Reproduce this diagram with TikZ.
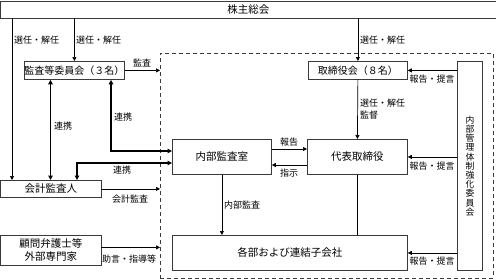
\documentclass[tikz,border=0pt]{standalone}
\usepackage{fontspec}
\setmainfont{Noto Sans CJK JP}
\usetikzlibrary{arrows.meta}
\definecolor{linec}{HTML}{3A3A3A}
\begin{document}
\begin{tikzpicture}[x=1pt,y=-1pt,
  box/.style={draw=linec, line width=0.8pt, fill=white, inner sep=0pt, anchor=north west, align=center, font=\fontsize{10.5}{13}\selectfont},
  lbl/.style={inner sep=0pt, font=\fontsize{9}{11}\selectfont},
  arr/.style={draw=black, line width=0.7pt, -{Triangle[length=4pt,width=4pt]}},
  ln/.style={draw=black, line width=0.7pt},
  thk/.style={draw=black, line width=1.5pt, {Triangle[length=4.5pt,width=4.5pt]}-{Triangle[length=4.5pt,width=4.5pt]}},
  frm/.style={draw=linec, line width=0.7pt, dash pattern=on 4pt off 3pt}]
\useasboundingbox (0,0) rectangle (496,279);
% dashed frame
\node[frm, inner sep=0pt, minimum width=333pt, minimum height=225pt, anchor=north west] (frame) at (160,53) {};
% boxes
\node[box, minimum width=495pt, minimum height=17pt] (top) at (0.5,0.5) {株主総会};
\node[box, minimum width=100pt, minimum height=18pt, font=\fontsize{10}{12}\selectfont] (kansa) at (24,61) {監査等委員会（３名）};
\node[box, minimum width=99pt, minimum height=18pt, font=\fontsize{10}{12}\selectfont] (tori) at (308,61) {取締役会（８名）};
\node[box, minimum width=25pt, minimum height=209pt, font=\fontsize{8.8}{9.2}\selectfont] (iin) at (457,61) {内\\部\\管\\理\\体\\制\\強\\化\\委\\員\\会};
\node[box, minimum width=99pt, minimum height=35pt] (naibu) at (172,139) {内部監査室};
\node[box, minimum width=100pt, minimum height=35pt] (daihyo) at (307,139) {代表取締役};
\node[box, minimum width=235pt, minimum height=35pt] (kakubu) at (172,235) {各部および連結子会社};
\node[box, minimum width=100pt, minimum height=17pt] (kaikei) at (0.5,180) {会計監査人};
\node[box, minimum width=100pt, minimum height=30pt] (komon) at (0.5,235) {顧問弁護士等\\外部専門家};
% shareholders arrows
\draw[arr] ([xshift=11.5pt]kaikei.north west |- top.south) -- ([xshift=11.5pt]kaikei.north west);
\draw[arr] (kansa.north |- top.south) -- (kansa.north);
\draw[arr] (tori.north |- top.south) -- (tori.north);
\node[lbl, anchor=west] (l1) at (14,40) {選任・解任};
\node[lbl, anchor=west] (l2) at (76,40) {選任・解任};
\node[lbl, anchor=west] (l3) at (360,40) {選任・解任};
% board -> president
\draw[arr] (tori.south) -- (daihyo.north);
\node[lbl, anchor=west, align=left, font=\fontsize{9}{11.5}\selectfont] (l4) at (360,109) {選任・解任\\監督};
% president -> departments
\draw[ln] (daihyo.south) -- (daihyo.south |- kakubu.north);
% internal audit
\draw[arr] (naibu.south) -- (naibu.south |- kakubu.north);
\node[lbl, anchor=west] (l5) at (224,205) {内部監査};
% report / instruction
\draw[arr] ([yshift=-10pt]naibu.north east) -- ([yshift=-10pt]naibu.north east -| daihyo.west);
\node[lbl] (l6) at (289,142) {報告};
\draw[arr] ([yshift=-26pt]daihyo.north west) -- ([yshift=-26pt]daihyo.north west -| naibu.east);
\node[lbl] (l7) at (289,173) {指示};
% committee reports
\draw[arr] (iin.west |- tori.east) -- (tori.east);
\draw[arr] (iin.west |- daihyo.east) -- (daihyo.east);
\draw[arr] (iin.west |- kakubu.east) -- (kakubu.east);
\node[lbl] (l8) at (432,79) {報告・提言};
\node[lbl] (l9) at (432,166) {報告・提言};
\node[lbl] (l10) at (432,261) {報告・提言};
% audit committee -> frame
\draw[arr] (kansa.east) -- (kansa.east -| frame.west);
\node[lbl] (l11) at (142,63) {監査};
\draw[arr] (kaikei.east) -- (kaikei.east -| frame.west);
\node[lbl] (l12) at (130,199) {会計監査};
\draw[arr] ([yshift=3pt]komon.east) -- ([yshift=3pt]komon.east -| frame.west);
\node[lbl] (l13) at (129,259) {助言・指導等};
% cooperation
\draw[thk] ([xshift=26.5pt]kansa.south west) -- ([xshift=26.5pt]kansa.south west |- kaikei.north);
\node[lbl, anchor=west] (l14) at (54,126) {連携};
\draw[thk] ([xshift=87pt]kansa.south west) |- ([yshift=-12pt]naibu.north west);
\node[lbl, anchor=west] (l15) at (114,117) {連携};
\draw[thk] ([yshift=-24pt]naibu.north west) -| ([xshift=76.5pt]kaikei.north west);
\node[lbl] (l16) at (122,170) {連携};
\end{tikzpicture}
\end{document}
